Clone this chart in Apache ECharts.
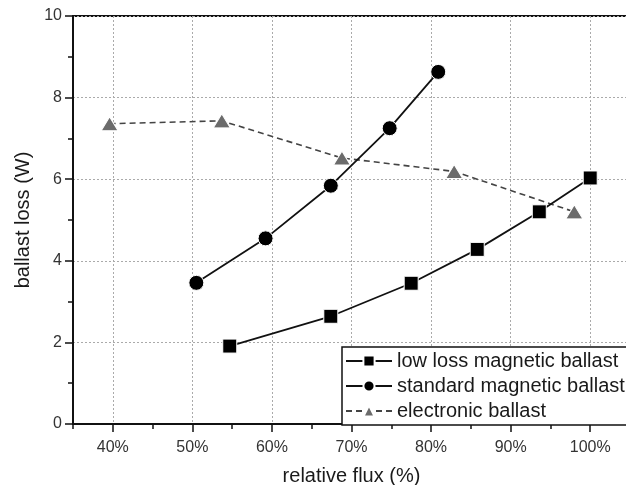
<!DOCTYPE html>
<html>
<head>
<meta charset="utf-8">
<script src="https://cdn.jsdelivr.net/npm/echarts@6/dist/echarts.min.js"></script>
<style>
  html, body { margin: 0; padding: 0; background: #fff; }
  #chart { width: 626px; height: 485px; }
</style>
</head>
<body>
<div id="chart"></div>
<script>
// series data: [relative flux %, ballast loss W]
const lowLossFlux = [54.7, 67.4, 77.5, 85.8, 93.6, 100];
const lowLossLoss = [1.91, 2.64, 3.45, 4.28, 5.20, 6.03];

const standardFlux = [50.5, 59.2, 67.4, 74.8, 80.9];
const standardLoss = [3.46, 4.55, 5.84, 7.25, 8.63];

const electronicFlux = [39.6, 53.7, 68.8, 82.9, 98.0];
const electronicLoss = [7.36, 7.43, 6.52, 6.19, 5.20];

// x tick labels (major ticks)
const fluxTicks = [40, 50, 60, 70, 80, 90, 100];

const seriesNames = ['low loss magnetic ballast', 'standard magnetic ballast', 'electronic ballast'];

function pairs(xs, ys) {
    return xs.map((x, i) => [x, ys[i]]);
}

var chart = echarts.init(document.getElementById('chart'));

var gridDots = { color: '#aaa', type: [2, 2], width: 1 };

var option = {
    animation: false,
    backgroundColor: '#fff',
    textStyle: { fontFamily: 'Liberation Sans, Arial, sans-serif' },
    grid: {
        left: 73,
        top: 16,
        right: -4,
        bottom: 61,
        outerBoundsMode: 'none',
        containLabel: false,
        show: true,
        borderColor: '#111',
        borderWidth: 2
    },
    legend: {
        orient: 'vertical',
        left: 342,
        top: 347,
        itemGap: 5,
        itemWidth: 46,
        itemHeight: 14,
        padding: [4, 40, 4, 3],
        backgroundColor: '#fff',
        borderColor: '#111',
        borderWidth: 1.5,
        borderRadius: 0,
        textStyle: { fontSize: 20, color: '#1a1a1a', fontFamily: 'Liberation Sans, Arial, sans-serif' },
        data: seriesNames
    },
    xAxis: [
        {
            type: 'value',
            min: 35,
            max: 105,
            name: 'relative flux (%)',
            nameLocation: 'middle',
            nameGap: 42,
            nameTextStyle: { fontSize: 20, color: '#1a1a1a' },
            axisLine: { onZero: false, lineStyle: { color: '#111', width: 2 } },
            axisTick: { customValues: fluxTicks, length: 8, lineStyle: { color: '#111', width: 1.5 } },
            axisLabel: {
                customValues: fluxTicks,
                fontSize: 16,
                color: '#333',
                margin: 16,
                formatter: v => v + '%'
            },
            splitLine: { show: true, lineStyle: gridDots }
        },
        {
            // minor ticks every 5 %
            type: 'value',
            position: 'bottom',
            min: 35,
            max: 105,
            interval: 5,
            axisLine: { show: false, onZero: false },
            axisTick: { length: 5, lineStyle: { color: '#111', width: 1.5 } },
            axisLabel: { show: false },
            splitLine: { show: false }
        }
    ],
    yAxis: {
        type: 'value',
        min: 0,
        max: 10,
        interval: 2,
        name: 'ballast loss (W)',
        nameLocation: 'middle',
        nameGap: 40,
        nameTextStyle: { fontSize: 20, color: '#1a1a1a' },
        axisLine: { show: true, lineStyle: { color: '#111', width: 2 } },
        axisTick: { show: true, length: 8, lineStyle: { color: '#111', width: 1.5 } },
        minorTick: { show: true, splitNumber: 2, length: 5, lineStyle: { color: '#111', width: 1.5 } },
        axisLabel: { fontSize: 16, color: '#333', margin: 11 },
        splitLine: { show: true, lineStyle: gridDots }
    },
    series: [
        {
            name: seriesNames[0],
            type: 'line',
            data: pairs(lowLossFlux, lowLossLoss),
            symbol: 'rect',
            symbolSize: 14,
            itemStyle: { color: '#000', borderColor: '#fff', borderWidth: 1 },
            lineStyle: { color: '#111', width: 1.8 },
            z: 3
        },
        {
            name: seriesNames[1],
            type: 'line',
            data: pairs(standardFlux, standardLoss),
            symbol: 'circle',
            symbolSize: 15,
            itemStyle: { color: '#000', borderColor: '#fff', borderWidth: 1 },
            lineStyle: { color: '#111', width: 1.8 },
            z: 3
        },
        {
            name: seriesNames[2],
            type: 'line',
            data: pairs(electronicFlux, electronicLoss),
            symbol: 'triangle',
            symbolSize: [17, 14],
            itemStyle: { color: '#6b6b6b', borderColor: '#fff', borderWidth: 1 },
            lineStyle: { color: '#444', width: 1.6, type: [6, 4] },
            z: 2
        }
    ]
};

chart.setOption(option);
</script>
</body>
</html>
